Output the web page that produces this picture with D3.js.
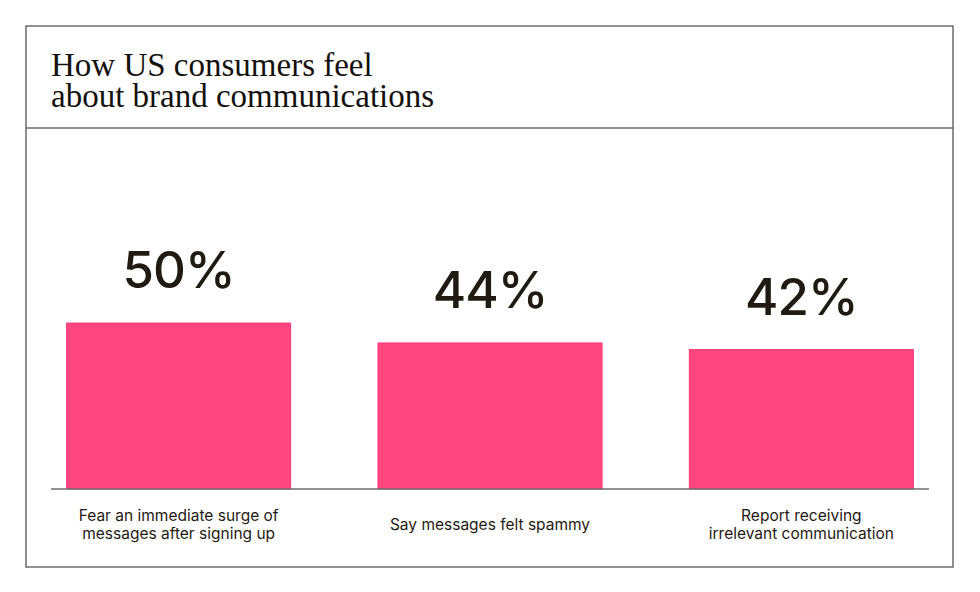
<!DOCTYPE html>
<html>
<head>
<meta charset="utf-8">
<script src="https://cdn.jsdelivr.net/npm/d3@7"></script>
<style>
  body { margin: 0; background: #fff; }
</style>
</head>
<body>
<div id="chart"></div>
<script>
const categories = ["fear", "spammy", "irrelevant"];
const values = [50, 44, 42];
const valueLabels = ["50%", "44%", "42%"];
const categoryLabels = [
  ["Fear an immediate surge of", "messages after signing up"],
  ["Say messages felt spammy"],
  ["Report receiving", "irrelevant communication"]
];
const titleLines = ["How US consumers feel", "about brand communications"];

const data = categories.map((c, i) => ({
  key: c, value: values[i], label: valueLabels[i], cat: categoryLabels[i]
}));

const width = 980, height = 592;
const frame = { left: 26, top: 26, right: 953, bottom: 567 };
const headerBottom = 128;
const baseline = 489;

const svg = d3.select("#chart").append("svg")
  .attr("width", width)
  .attr("height", height);

// frame
svg.append("rect")
  .attr("x", frame.left).attr("y", frame.top)
  .attr("width", frame.right - frame.left)
  .attr("height", frame.bottom - frame.top)
  .attr("fill", "none")
  .attr("stroke", "#555")
  .attr("stroke-width", 1.3);

svg.append("line")
  .attr("x1", frame.left).attr("x2", frame.right)
  .attr("y1", headerBottom).attr("y2", headerBottom)
  .attr("stroke", "#6a6a6a")
  .attr("stroke-width", 1.3);

// title, one text per line
svg.append("g").attr("id", "title")
  .selectAll("text")
  .data(titleLines)
  .join("text")
  .attr("x", 51)
  .attr("y", (d, i) => 76 + i * 31)
  .attr("font-family", "'Liberation Serif', serif")
  .attr("font-size", 33)
  .attr("fill", "#14110e")
  .text(d => d);

const xScale = d3.scaleBand()
  .domain(categories)
  .range([51, 929])
  .paddingInner(0.28)
  .paddingOuter(0.05);

const yScale = d3.scaleLinear()
  .domain([0, 100])
  .range([baseline, baseline - 332]);

const g = svg.append("g").attr("id", "bars");

g.selectAll("rect")
  .data(data)
  .join("rect")
  .attr("x", d => xScale(d.key))
  .attr("y", d => yScale(d.value))
  .attr("width", xScale.bandwidth())
  .attr("height", d => baseline - yScale(d.value))
  .attr("fill", "#ff4580")
  .attr("stroke", "#ff2d72")
  .attr("stroke-width", 0.8);

// baseline
svg.append("line")
  .attr("x1", 51).attr("x2", 929)
  .attr("y1", baseline).attr("y2", baseline)
  .attr("stroke", "#6e6e6e")
  .attr("stroke-width", 1.3);

// value labels
g.selectAll("text.value")
  .data(data)
  .join("text")
  .attr("class", "value")
  .attr("x", d => xScale(d.key) + xScale.bandwidth() / 2)
  .attr("y", d => yScale(d.value) - 35)
  .attr("text-anchor", "middle")
  .attr("font-family", "Inter, 'Noto Sans', sans-serif")
  .attr("font-size", 51)
  .attr("font-weight", 500)
  .attr("letter-spacing", -1)
  .attr("fill", "#1f1a12")
  .text(d => d.label);

// category labels
const catG = svg.append("g").attr("id", "x-labels");
data.forEach(d => {
  const cx = xScale(d.key) + xScale.bandwidth() / 2;
  const n = d.cat.length;
  const lineH = 18;
  const y0 = 530 - (n - 1) * lineH / 2;
  catG.append("text")
    .attr("text-anchor", "middle")
    .attr("font-family", "Inter, 'Noto Sans', sans-serif")
    .attr("font-size", 15.5)
    .attr("fill", "#1f1a12")
    .selectAll("tspan")
    .data(d.cat)
    .join("tspan")
    .attr("x", cx)
    .attr("y", (t, i) => y0 + i * lineH)
    .text(t => t);
});
</script>
</body>
</html>
